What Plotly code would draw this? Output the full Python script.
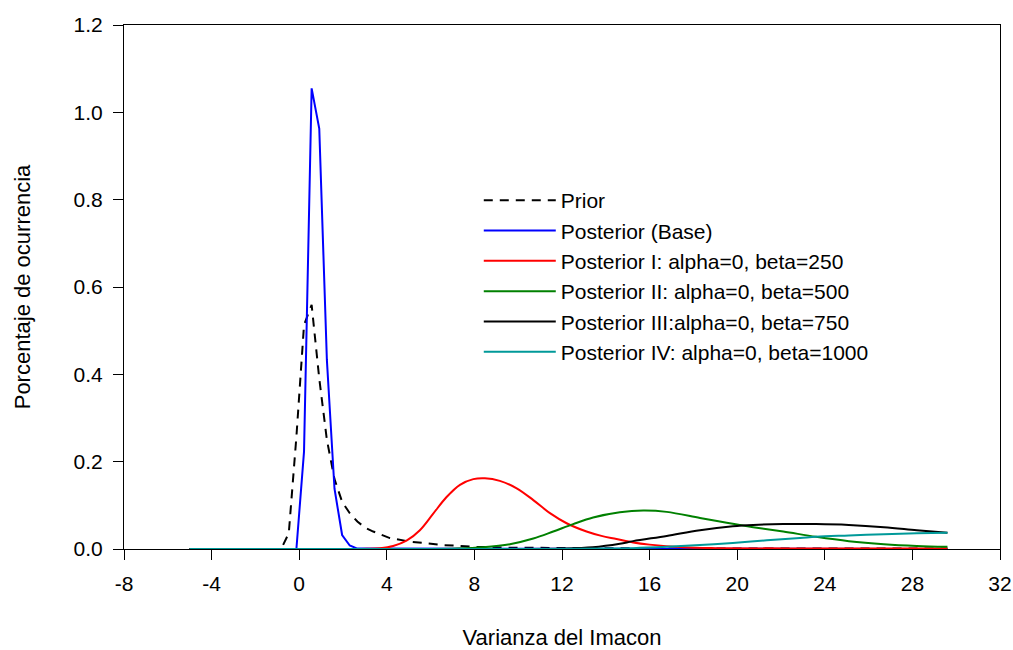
import plotly.graph_objects as go

# ---- data ----
prior_x = [-5.0, -0.824, -0.476, -0.128, 0.22, 0.568, 0.916, 1.264, 1.612, 1.96, 2.308, 2.656,
           3.0, 3.38, 4.14, 5.05, 6.58, 8.1, 9.6, 12.0, 16.0, 22.0, 29.6]
prior_y = [0.0, 0.0, 0.036, 0.257, 0.513, 0.559, 0.39, 0.25, 0.16, 0.108, 0.082, 0.063,
           0.049, 0.040, 0.025, 0.017, 0.009, 0.005, 0.003, 0.002, 0.0015, 0.001, 0.001]

base_x = [-5.0, -0.128, 0.22, 0.568, 0.916, 1.264, 1.612, 1.96, 2.308, 2.656, 29.6]
base_y = [0.0, 0.0, 0.223, 1.055, 0.963, 0.433, 0.138, 0.032, 0.008, 0.001, 0.0]

p1_x = [-5.0, 1.0, 2.5, 3.1, 3.69, 4.29, 4.90, 5.51, 6.12, 6.73, 7.34, 7.95, 8.48, 9.16, 9.93, 10.69,
        11.45, 12.21, 13.12, 13.8, 14.49, 15.25, 16.0, 17.5, 19.0, 24.0, 29.6]
p1_y = [0.0, 0.0, 0.0, 0.0005, 0.002, 0.007, 0.019, 0.043, 0.081, 0.119, 0.147, 0.160, 0.162, 0.156, 0.139, 0.112,
        0.082, 0.059, 0.040, 0.030, 0.023, 0.015, 0.010, 0.004, 0.002, 0.001, 0.001]

p2_x = [-5.0, 2.0, 5.0, 6.0, 7.2, 8.4, 9.62, 10.69, 11.6, 12.51, 13.42, 14.64, 15.71, 16.78, 18.3,
        19.52, 20.73, 22.1, 23.6, 25.1, 26.7, 28.2, 29.6]
p2_y = [0.0, 0.0, 0.0, 0.0, 0.001, 0.004, 0.011, 0.024, 0.040, 0.057, 0.072, 0.084, 0.088, 0.085, 0.071,
        0.060, 0.050, 0.040, 0.028, 0.018, 0.011, 0.007, 0.005]

p3_x = [-5.0, 2.0, 7.0, 10.0, 12.0, 13.4, 14.64, 15.25, 16.78, 18.3, 19.8, 20.73, 22.1, 23.6, 25.1, 26.7, 28.2, 29.6]
p3_y = [0.0, 0.0, 0.0, 0.0, 0.001, 0.004, 0.012, 0.018, 0.030, 0.043, 0.052, 0.055, 0.057, 0.057, 0.055, 0.050, 0.043, 0.037]

p4_x = [-5.0, 2.0, 7.0, 11.0, 14.0, 15.25, 16.78, 18.3, 19.8, 21.35, 22.87, 23.6, 25.1, 26.7, 28.2, 29.6]
p4_y = [0.0, 0.0, 0.0, 0.0, 0.001, 0.002, 0.005, 0.009, 0.014, 0.020, 0.025, 0.028, 0.031, 0.034, 0.036, 0.037]

names = ["Prior", "Posterior (Base)", "Posterior I: alpha=0, beta=250",
         "Posterior II: alpha=0, beta=500", "Posterior III:alpha=0, beta=750",
         "Posterior IV: alpha=0, beta=1000"]

x_ticks = [-8, -4, 0, 4, 8, 12, 16, 20, 24, 28, 32]
y_ticks = [0.0, 0.2, 0.4, 0.6, 0.8, 1.0, 1.2]

FONT = "Arial, Liberation Sans, sans-serif"

fig = go.Figure()
series = [
    (prior_x, prior_y, "black", "9px,7px", "linear"),
    (base_x, base_y, "#0000FF", "solid", "linear"),
    (p1_x, p1_y, "#FF0000", "solid", "spline"),
    (p2_x, p2_y, "#008000", "solid", "spline"),
    (p3_x, p3_y, "black", "solid", "spline"),
    (p4_x, p4_y, "#009999", "solid", "spline"),
]
for (xs, ys, col, dash, shape), nm in zip(series, names):
    fig.add_trace(go.Scatter(
        x=xs, y=ys, mode="lines", name=nm,
        line=dict(color=col, width=2, dash=dash, shape=shape,
                  smoothing=1.0 if shape == "spline" else None),
    ))

fig.update_layout(
    width=1013, height=650,
    margin=dict(l=124, r=13, t=25, b=101),
    paper_bgcolor="white", plot_bgcolor="white",
    font=dict(family=FONT, size=21, color="black"),
    showlegend=True,
    legend=dict(
        x=0.405, y=0.704, xanchor="left", yanchor="top",
        bgcolor="rgba(0,0,0,0)", borderwidth=0,
        font=dict(family=FONT, size=21, color="black"),
        itemwidth=72, tracegroupgap=0,
    ),
    xaxis=dict(
        range=[-8, 32], tickvals=x_ticks, ticktext=[str(v) for v in x_ticks],
        showgrid=False, zeroline=False, automargin=False,
        showline=True, linecolor="black", linewidth=1, mirror=True,
        ticks="outside", ticklen=10, tickcolor="black", tickwidth=1,
        ticklabelstandoff=6,
        tickfont=dict(family=FONT, size=21),
        title=dict(text="Varianza del Imacon", standoff=41,
                   font=dict(family=FONT, size=22)),
    ),
    yaxis=dict(
        range=[0, 1.2], tickvals=y_ticks, ticktext=[f"{v:.1f}" for v in y_ticks],
        showgrid=False, zeroline=False, automargin=False,
        showline=True, linecolor="black", linewidth=1, mirror=True,
        ticks="outside", ticklen=10, tickcolor="black", tickwidth=1,
        ticklabelstandoff=6,
        tickfont=dict(family=FONT, size=21),
        title=dict(text="Porcentaje de ocurrencia", standoff=36,
                   font=dict(family=FONT, size=22)),
    ),
)

fig.write_html("out.html")
